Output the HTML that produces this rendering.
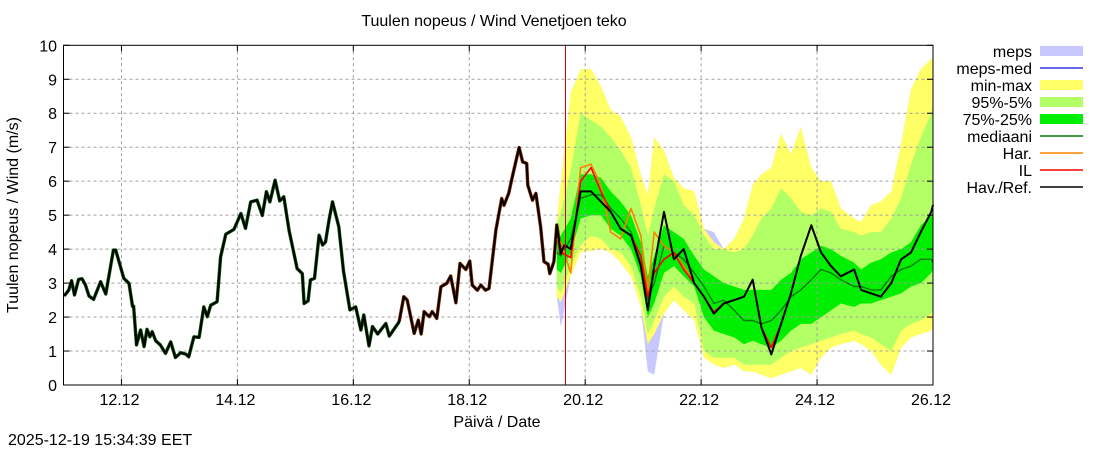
<!DOCTYPE html>
<html><head><meta charset="utf-8"><style>
html,body{margin:0;padding:0;background:#fff;}
svg{display:block;font-family:"Liberation Sans",sans-serif;}
</style></head><body>
<svg id="chart" width="1100" height="450" viewBox="0 0 1100 450">
<text x="494" y="26" font-size="16" text-anchor="middle">Tuulen nopeus / Wind  Venetjoen teko</text>
<text x="497" y="427" font-size="16" text-anchor="middle">Päivä / Date</text>
<text transform="translate(18,215) rotate(-90)" font-size="16" text-anchor="middle">Tuulen nopeus / Wind (m/s)</text>
<text x="8" y="445" font-size="16">2025-12-19 15:34:39 EET</text>
<g id="bands"></g>
<g id="grid"></g>
<g id="lines"></g>
<g id="axes"></g>
<g id="legend"></g>
</svg>
<script>
const xTickLabels=["12.12","14.12","16.12","18.12","20.12","22.12","24.12","26.12"];
const xTickDays=[1,3,5,7,9,11,13,15];
const yTicks=[0,1,2,3,4,5,6,7,8,9,10];
const nowDay=8.66;
const obsT=[0.01,0.09,0.14,0.19,0.26,0.32,0.38,0.44,0.52,0.64,0.73,0.86,0.90,1.04,1.13,1.19,1.21,1.26,1.33,1.39,1.44,1.49,1.53,1.59,1.67,1.76,1.85,1.93,2.02,2.11,2.16,2.25,2.34,2.42,2.48,2.54,2.65,2.71,2.80,2.94,3.06,3.14,3.23,3.34,3.43,3.50,3.56,3.65,3.73,3.80,3.89,4.03,4.12,4.15,4.22,4.26,4.33,4.41,4.47,4.52,4.58,4.64,4.75,4.83,4.94,5.04,5.13,5.18,5.27,5.33,5.42,5.56,5.62,5.79,5.87,5.93,6.05,6.12,6.17,6.22,6.31,6.36,6.44,6.51,6.61,6.68,6.77,6.84,6.94,7.01,7.05,7.14,7.20,7.28,7.34,7.46,7.56,7.60,7.68,7.75,7.86,7.92,7.99,8.01,8.09,8.15,8.23,8.29,8.36,8.39,8.46,8.51,8.58,8.64];
const obsV=[2.62,2.79,3.07,2.65,3.11,3.13,2.94,2.62,2.52,3.04,2.68,3.97,3.97,3.14,2.99,2.32,2.32,1.18,1.62,1.13,1.64,1.42,1.57,1.30,1.18,0.93,1.27,0.81,0.95,0.91,0.83,1.42,1.40,2.30,2.01,2.35,2.45,3.77,4.44,4.58,5.05,4.61,5.39,5.44,4.99,5.69,5.39,6.03,5.42,5.54,4.56,3.43,3.28,2.40,2.48,3.09,3.14,4.41,4.12,4.21,4.85,5.39,4.66,3.35,2.21,2.30,1.62,2.06,1.15,1.72,1.50,1.81,1.44,1.86,2.60,2.50,1.52,1.91,1.50,2.16,2.01,2.16,1.96,2.89,2.99,3.21,2.42,3.58,3.40,3.65,2.94,2.79,2.94,2.79,2.84,4.56,5.49,5.29,5.64,6.18,6.99,6.57,6.52,5.88,5.44,5.64,4.66,3.63,3.56,3.28,3.63,4.71,3.87,4.12];
const fT=[8.51,8.58,8.75,8.92,9.10,9.27,9.44,9.61,9.79,9.96,10.08,10.19,10.36,10.53,10.70,10.88,11.05,11.22,11.39,11.57,11.74,11.89,12.04,12.21,12.38,12.55,12.72,12.90,13.07,13.24,13.41,13.64,13.76,13.93,14.10,14.28,14.45,14.62,14.79,14.97,15.0];
const fMin=[2.6,2.45,3.2,3.9,3.95,4.0,3.9,3.6,3.2,2.3,1.2,1.5,2.1,2.5,2.2,1.9,0.8,0.6,0.5,0.6,0.4,0.4,0.3,0.2,0.3,0.4,0.5,0.3,0.8,1.1,1.2,1.3,1.2,1.0,0.6,0.3,1.1,1.4,1.5,1.6,1.7];
const fP5=[2.9,2.7,3.5,4.1,4.4,4.3,4.0,3.9,3.5,2.6,1.5,1.9,2.6,2.9,2.6,2.4,1.0,0.8,0.8,0.8,0.6,0.6,0.6,0.6,0.8,1.0,1.1,1.2,1.3,1.4,1.5,1.6,1.5,1.4,1.2,1.0,1.6,1.8,1.9,2.1,2.2];
const fP25=[3.4,3.3,3.9,4.9,5.0,5.0,4.6,4.4,4.0,3.2,2.0,2.4,3.3,3.5,3.2,2.9,2.0,1.6,1.5,1.4,1.2,1.3,1.2,1.1,1.3,1.6,1.8,1.8,2.0,2.2,2.4,2.3,2.4,2.4,2.5,2.6,2.7,2.9,3.0,3.3,3.4];
const fMed=[3.9,3.8,4.3,5.5,5.6,5.6,5.2,4.9,4.5,3.6,2.5,3.0,4.1,3.9,3.7,3.3,2.9,2.4,2.5,2.2,1.9,1.9,1.8,1.9,2.2,2.6,2.8,3.1,3.4,3.3,3.1,2.9,2.9,2.8,2.8,3.2,3.4,3.5,3.7,3.7,3.6];
const fP75=[4.3,4.4,4.9,6.2,6.2,6.1,5.7,5.4,5.0,4.2,3.2,3.8,4.7,4.5,4.3,3.8,3.4,3.2,3.0,2.9,2.8,2.8,2.8,2.8,3.1,3.3,3.7,3.9,4.1,4.0,3.8,3.6,3.4,3.6,3.7,3.9,4.0,4.2,4.7,5.0,5.1];
const fP95=[4.7,5.1,6.3,8.0,7.8,7.6,7.3,6.9,6.4,5.3,4.4,5.2,6.2,6.0,5.3,5.0,4.4,4.0,4.0,3.9,4.0,4.4,4.9,5.2,5.8,5.5,5.1,5.0,5.2,5.1,4.6,4.5,4.4,4.5,4.5,4.9,5.5,6.5,7.3,8.0,8.3];
const fMax=[4.8,6.0,8.6,9.3,9.3,8.8,8.1,7.9,7.3,6.2,5.6,7.3,6.9,6.1,5.8,5.7,4.6,4.2,4.0,4.3,4.9,5.9,6.2,6.4,7.4,6.8,7.6,6.4,6.0,6.0,5.2,4.9,4.8,5.3,5.4,5.7,7.1,8.7,9.3,9.6,9.6];
const mepsLo=[2.6,1.7,3.2,3.9,3.95,4.0,3.9,3.6,3.2,2.3,0.4,0.3,2.1,2.5,2.2,1.9,0.8,0.6,0.5,0.6,0.4,0.4,0.3,0.2,0.3,0.4,0.5,0.3,0.8,1.1,1.2,1.3,1.2,1.0,0.6,0.3,1.1,1.4,1.5,1.6,1.7];
const mepsHi=[4.8,6.0,8.6,9.3,9.3,8.8,8.1,7.9,7.3,6.2,5.6,7.3,6.9,6.1,5.8,5.7,4.6,4.5,4.0,4.3,4.9,5.9,6.2,6.4,7.4,6.8,7.6,6.4,6.0,6.0,5.2,4.9,4.8,5.3,5.4,5.7,7.1,8.7,9.3,9.6,9.6];
const refT=[8.75,8.92,9.10,9.27,9.44,9.61,9.79,9.96,10.08,10.19,10.36,10.53,10.70,10.88,11.05,11.22,11.39,11.57,11.74,11.89,12.04,12.21,12.38,12.55,12.72,12.90,13.07,13.24,13.41,13.64,13.76,13.93,14.10,14.28,14.45,14.62,14.79,14.97,15.0];
const refV=[4.0,5.7,5.7,5.4,5.1,4.6,4.4,3.5,2.2,3.5,5.1,3.7,4.0,3.0,2.6,2.1,2.4,2.5,2.6,3.1,1.7,0.9,1.8,2.7,3.8,4.7,3.9,3.5,3.2,3.4,2.8,2.7,2.6,3.0,3.7,3.9,4.5,5.1,5.3];
const harV=[4.3,4.2,3.3,6.4,6.5,5.9,4.5,4.3,5.2,4.4,2.8,4.5,4.1,3.9,3.5,3.0,2.6,2.1,2.4,2.5,2.6,3.1,1.7,0.9,1.8,2.7,3.8,4.7,3.9,3.5,3.2,3.4,2.8,2.7,2.6,3.0,3.7,3.9,4.5,5.1,5.3];
const ilV=[4.6,3.9,3.75,6.0,6.4,5.7,5.1,4.6,4.4,3.8,2.6,3.3,3.7,3.9,3.4,3.0,2.6,2.15,2.4,2.5,2.6,3.1,1.7,1.1,1.8,2.7,3.8,4.7,3.9,3.5,3.2,3.4,2.8,2.7,2.6,3.0,3.7,3.9,4.5,5.1,5.3];

const X0=63.5,X1=933,Y0=385,Y1=45.3,DAYS=15,YMAX=10;
const xs=d=>X0+(X1-X0)*d/DAYS;
const ys=v=>Y0-(Y0-Y1)*v/YMAX;
const NS="http://www.w3.org/2000/svg";
function mk(tag,attrs,parent){const e=document.createElementNS(NS,tag);for(const k in attrs)e.setAttribute(k,attrs[k]);parent.appendChild(e);return e;}
function band(lo,hi,fill,name){
  const n=Math.min(fT.length,lo.length,hi.length);let p="";
  for(let i=0;i<n;i++)p+=(i?"L":"M")+xs(fT[i]).toFixed(1)+","+ys(hi[i]).toFixed(1);
  for(let i=n-1;i>=0;i--)p+="L"+xs(fT[i]).toFixed(1)+","+ys(lo[i]).toFixed(1);
  const e=mk("path",{d:p+"Z",fill:fill,stroke:"none"},document.getElementById("bands"));
  
  
}
band(mepsLo,mepsHi,"#c8c8ff","meps-band");
band(fMin,fMax,"#ffff66","min-max-band");
band(fP5,fP95,"#b3ff66","p95-p5-band");
band(fP25,fP75,"#00ee00","p75-p25-band");
function line(T,V,color,w,name,parent){
  const n=Math.min(T.length,V.length);let p="";
  for(let i=0;i<n;i++)p+=(i?"L":"M")+xs(T[i]).toFixed(1)+","+ys(V[i]).toFixed(1);
  const e=mk("path",{d:p,fill:"none",stroke:color,"stroke-width":w,"stroke-linejoin":"round"},parent||document.getElementById("lines"));
  
  
}
const grid=document.getElementById("grid");
yTicks.forEach(v=>{if(v>0&&v<YMAX){const g=mk("line",{x1:X0,x2:X1,y1:ys(v),y2:ys(v),stroke:"#a0a0a0","stroke-width":1,"stroke-dasharray":"3,3"},grid);}});
xTickDays.forEach(d=>{if(d<DAYS){const g=mk("line",{x1:xs(d),x2:xs(d),y1:Y1,y2:Y0,stroke:"#a0a0a0","stroke-width":1,"stroke-dasharray":"3,3"},grid);}});
const cut=obsT.findIndex(t=>t>5.7);
line(obsT.slice(0,cut+1),obsV.slice(0,cut+1),"#0a5a0a",3.4,"obs-median-shadow");
line(obsT.slice(cut),obsV.slice(cut),"#8a2a00",3.4,"obs-il-shadow");
line(fT,fMed,"#0a7a0a",1.4,"mediaani-line");
line(fT,harV,"#ff8000",1.6,"har-line");
line(fT,ilV,"#ff0000",1.6,"il-line");
line(obsT,obsV,"#000",2,"observed-line");
line([obsT[obsT.length-1]].concat(refT),[obsV[obsV.length-1]].concat(refV),"#000",2,"hav-ref-line");
const nl=mk("line",{x1:xs(nowDay),x2:xs(nowDay),y1:Y1,y2:Y0,stroke:"#cc0000","stroke-width":1},document.getElementById("lines"));

const ax=document.getElementById("axes");
const fr=mk("rect",{x:X0,y:Y1,width:X1-X0,height:Y0-Y1,fill:"none",stroke:"#000","stroke-width":1},ax);

yTicks.forEach(v=>{
  mk("line",{x1:X0,x2:X0+6,y1:ys(v),y2:ys(v),stroke:"#000"},ax);
  mk("line",{x1:X1-6,x2:X1,y1:ys(v),y2:ys(v),stroke:"#000"},ax);
  const t=mk("text",{x:57,y:ys(v)+6,"font-size":16,"text-anchor":"end"},ax);t.textContent=v;
  
});
xTickDays.forEach((d,i)=>{
  mk("line",{x1:xs(d),x2:xs(d),y1:Y0,y2:Y0-6,stroke:"#000"},ax);
  mk("line",{x1:xs(d),x2:xs(d),y1:Y1,y2:Y1+6,stroke:"#000"},ax);
  const t=mk("text",{x:xs(d)-2,y:405,"font-size":16,"text-anchor":"middle"},ax);t.textContent=xTickLabels[i];
  
});
const legNames=["meps","meps-med","min-max","95%-5%","75%-25%","mediaani","Har.","IL","Hav./Ref."];
const legColors=["#c8c8ff","#3333dd","#ffff66","#b3ff66","#00ee00","#0a7a0a","#ff8000","#ff0000","#000"];
const legBox=[true,false,true,true,true,false,false,false,false];
const lg=document.getElementById("legend");
legNames.forEach((nm,i)=>{
  const y=51+i*17;
  const g=mk("g",{},lg);
  
  
  const t=mk("text",{x:1032,y:y+6,"font-size":16,"text-anchor":"end"},g);t.textContent=nm;
  if(legBox[i])mk("rect",{x:1040,y:y-5,width:43,height:10,fill:legColors[i]},g);
  else mk("line",{x1:1040,x2:1083,y1:y,y2:y,stroke:legColors[i],"stroke-width":1.6},g);
});
</script>
</body></html>
